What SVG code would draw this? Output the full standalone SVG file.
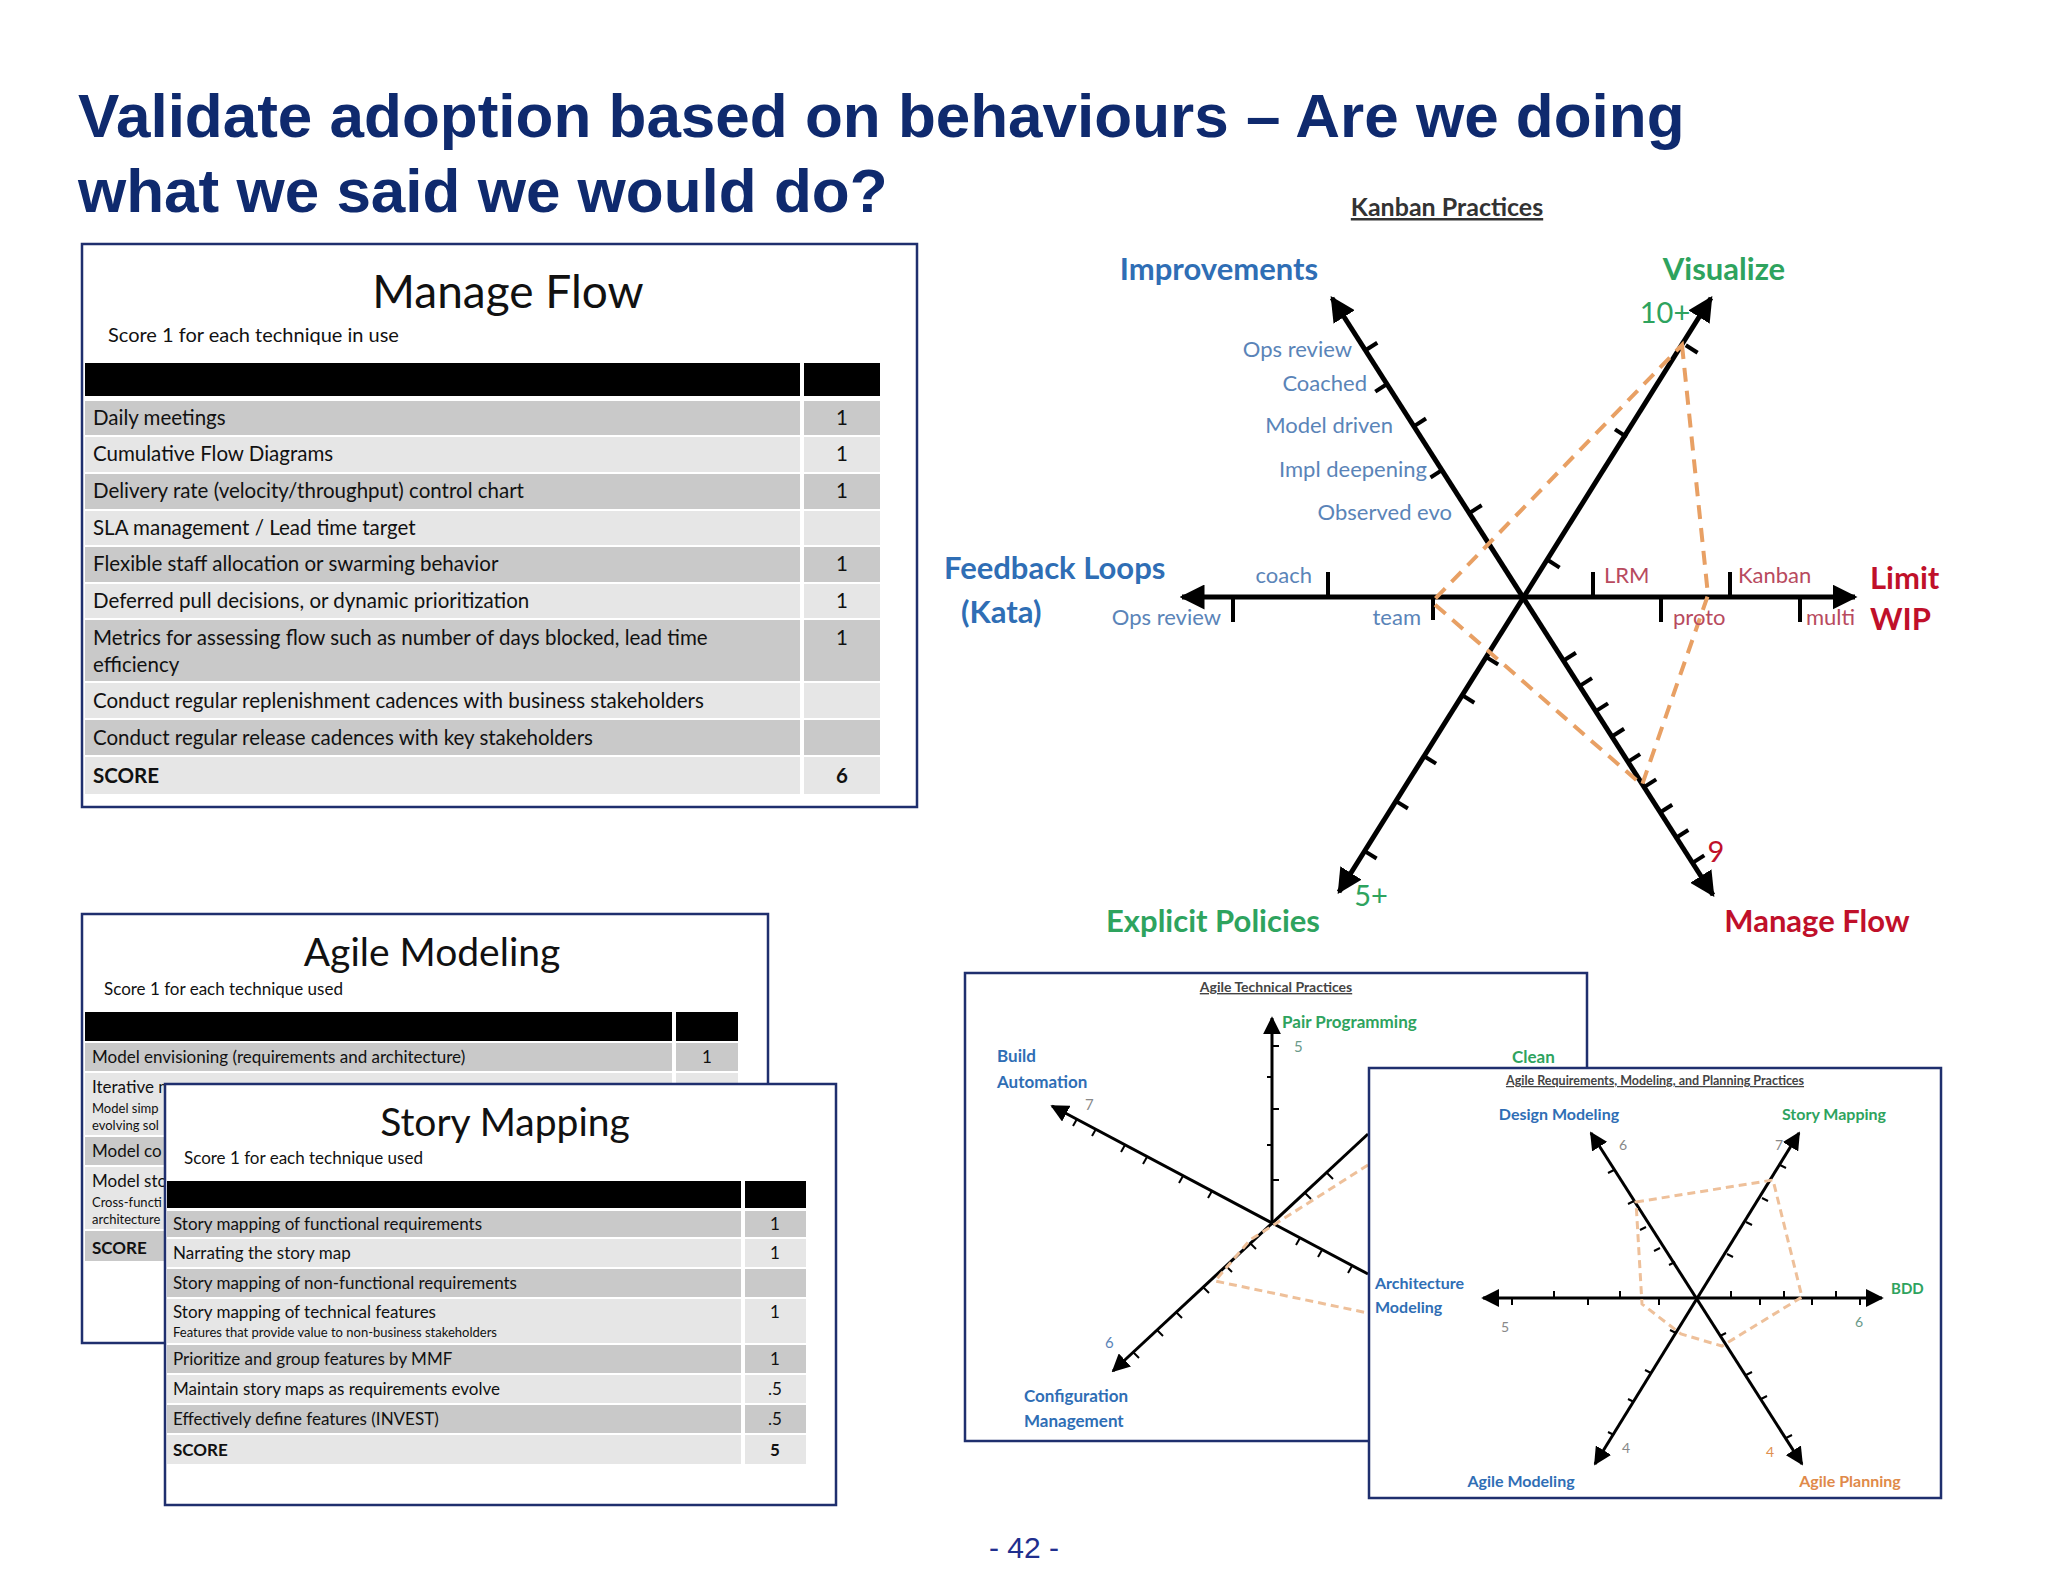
<svg xmlns="http://www.w3.org/2000/svg" width="2048" height="1582" viewBox="0 0 2048 1582">
<defs>
<marker id="ah" viewBox="0 0 10 10" refX="9" refY="5" markerWidth="5" markerHeight="5" orient="auto-start-reverse" markerUnits="strokeWidth"><path d="M0,0 L10,5 L0,10 z" fill="#000"/></marker>
<marker id="ah2" viewBox="0 0 10 10" refX="9" refY="5" markerWidth="6" markerHeight="6" orient="auto-start-reverse" markerUnits="strokeWidth"><path d="M0,0 L10,5 L0,10 z" fill="#000"/></marker>
<style>
.ttl{font-family:"Liberation Sans",Arial,sans-serif;font-weight:bold;font-size:62px;fill:#0f2a6e}
.box{fill:#fff;stroke:#1f2f6e;stroke-width:2.5}
.bt{font-family:"Lato","Open Sans",sans-serif;fill:#111}
.hd{fill:#000}
.dk{fill:#c9c9c9}
.lt{fill:#e6e6e6}
.cell{font-family:"Lato","Open Sans",sans-serif;font-size:20.5px;fill:#111}
.cs{font-family:"Lato","Open Sans",sans-serif;font-size:17px;fill:#111}
.cx{font-family:"Lato","Open Sans",sans-serif;font-size:13px;fill:#111}
.ax{stroke:#000;stroke-width:5;fill:none}
.tk{stroke:#000;stroke-width:4}
.ax2{stroke:#000;stroke-width:3;fill:none}
.tk2{stroke:#000;stroke-width:2}
.or{stroke:#e8a064;stroke-width:4;stroke-dasharray:14 9;fill:none}
.or2{stroke:#eec09a;stroke-width:3;stroke-dasharray:8 5;fill:none}
.k{font-family:"Lato","Open Sans",sans-serif}
.big{font-size:31px;font-weight:bold}
.sm{font-size:22px}
.blue{fill:#2f6eb5}
.lblue{fill:#5a84b8}
.green{fill:#2ea35e}
.red{fill:#c0102a}
.lred{fill:#b84a5e}
</style>
</defs>
<rect width="2048" height="1582" fill="#fff"/>
<text class="ttl" x="78" y="137">Validate adoption based on behaviours – Are we doing</text>
<text class="ttl" x="78" y="212">what we said we would do?</text>

<g id="manage-flow-table">
<rect class="box" x="82" y="244" width="835" height="563"/>
<text class="bt" x="508" y="308" font-size="46" text-anchor="middle">Manage Flow</text>
<text class="bt" x="108" y="342" font-size="20">Score 1 for each technique in use</text>
<rect class="hd" x="85" y="363" width="715" height="33"/><rect class="hd" x="804" y="363" width="76" height="33"/>
<rect class="dk" x="85" y="401" width="715" height="34"/><rect class="dk" x="804" y="401" width="76" height="34"/>
<rect class="lt" x="85" y="437" width="715" height="35"/><rect class="lt" x="804" y="437" width="76" height="35"/>
<rect class="dk" x="85" y="474" width="715" height="35"/><rect class="dk" x="804" y="474" width="76" height="35"/>
<rect class="lt" x="85" y="511" width="715" height="34"/><rect class="lt" x="804" y="511" width="76" height="34"/>
<rect class="dk" x="85" y="547" width="715" height="35"/><rect class="dk" x="804" y="547" width="76" height="35"/>
<rect class="lt" x="85" y="584" width="715" height="34"/><rect class="lt" x="804" y="584" width="76" height="34"/>
<rect class="dk" x="85" y="620" width="715" height="61"/><rect class="dk" x="804" y="620" width="76" height="61"/>
<rect class="lt" x="85" y="683" width="715" height="35"/><rect class="lt" x="804" y="683" width="76" height="35"/>
<rect class="dk" x="85" y="720" width="715" height="35"/><rect class="dk" x="804" y="720" width="76" height="35"/>
<rect class="lt" x="85" y="757" width="715" height="37"/><rect class="lt" x="804" y="757" width="76" height="37"/>
<text class="cell" x="93" y="425">Daily meetings</text><text class="cell" x="842" y="425" text-anchor="middle">1</text>
<text class="cell" x="93" y="461">Cumulative Flow Diagrams</text><text class="cell" x="842" y="461" text-anchor="middle">1</text>
<text class="cell" x="93" y="498">Delivery rate (velocity/throughput) control chart</text><text class="cell" x="842" y="498" text-anchor="middle">1</text>
<text class="cell" x="93" y="535">SLA  management / Lead time target</text>
<text class="cell" x="93" y="571">Flexible staff allocation or swarming behavior</text><text class="cell" x="842" y="571" text-anchor="middle">1</text>
<text class="cell" x="93" y="608">Deferred pull decisions, or dynamic prioritization</text><text class="cell" x="842" y="608" text-anchor="middle">1</text>
<text class="cell" x="93" y="645">Metrics for assessing flow such as number of days blocked, lead time</text><text class="cell" x="842" y="645" text-anchor="middle">1</text>
<text class="cell" x="93" y="672">efficiency</text>
<text class="cell" x="93" y="708">Conduct regular replenishment cadences with business stakeholders</text>
<text class="cell" x="93" y="745">Conduct regular release cadences with key stakeholders</text>
<text class="cell" x="93" y="783" font-weight="bold">SCORE</text><text class="cell" x="842" y="783" text-anchor="middle" font-weight="bold">6</text>
</g>

<g id="agile-modeling-table">
<rect class="box" x="82" y="914" width="686" height="429"/>
<text class="bt" x="432" y="966" font-size="39" text-anchor="middle">Agile Modeling</text>
<text class="bt" x="104" y="995" font-size="17">Score 1 for each technique used</text>
<rect class="hd" x="85" y="1012" width="587" height="29"/><rect class="hd" x="676" y="1012" width="62" height="29"/>
<rect class="dk" x="85" y="1043" width="587" height="28"/><rect class="dk" x="676" y="1043" width="62" height="28"/>
<rect class="lt" x="85" y="1073" width="587" height="62"/><rect class="lt" x="676" y="1073" width="62" height="62"/>
<rect class="dk" x="85" y="1137" width="587" height="28"/><rect class="dk" x="676" y="1137" width="62" height="28"/>
<rect class="lt" x="85" y="1167" width="587" height="62"/><rect class="lt" x="676" y="1167" width="62" height="62"/>
<rect class="dk" x="85" y="1231" width="587" height="30"/><rect class="dk" x="676" y="1231" width="62" height="30"/>
<text class="cs" x="92" y="1063">Model envisioning (requirements and architecture)</text><text class="cs" x="707" y="1063" text-anchor="middle">1</text>
<text class="cs" x="92" y="1093">Iterative m</text>
<text class="cx" x="92" y="1113">Model simp</text>
<text class="cx" x="92" y="1130">evolving sol</text>
<text class="cs" x="92" y="1157">Model co</text>
<text class="cs" x="92" y="1187">Model sto</text>
<text class="cx" x="92" y="1207">Cross-functi</text>
<text class="cx" x="92" y="1224">architecture</text>
<text class="cs" x="92" y="1254" font-weight="bold">SCORE</text>
</g>

<g id="story-mapping-table">
<rect class="box" x="165" y="1084" width="671" height="421"/>
<text class="bt" x="505" y="1136" font-size="39" text-anchor="middle">Story Mapping</text>
<text class="bt" x="184" y="1164" font-size="17">Score 1 for each technique used</text>
<rect class="hd" x="167" y="1181" width="574" height="27"/><rect class="hd" x="745" y="1181" width="61" height="27"/>
<rect class="dk" x="167" y="1211" width="574" height="26"/><rect class="dk" x="745" y="1211" width="61" height="26"/>
<rect class="lt" x="167" y="1239" width="574" height="28"/><rect class="lt" x="745" y="1239" width="61" height="28"/>
<rect class="dk" x="167" y="1269" width="574" height="28"/><rect class="dk" x="745" y="1269" width="61" height="28"/>
<rect class="lt" x="167" y="1299" width="574" height="44"/><rect class="lt" x="745" y="1299" width="61" height="44"/>
<rect class="dk" x="167" y="1345" width="574" height="28"/><rect class="dk" x="745" y="1345" width="61" height="28"/>
<rect class="lt" x="167" y="1375" width="574" height="28"/><rect class="lt" x="745" y="1375" width="61" height="28"/>
<rect class="dk" x="167" y="1405" width="574" height="28"/><rect class="dk" x="745" y="1405" width="61" height="28"/>
<rect class="lt" x="167" y="1435" width="574" height="29"/><rect class="lt" x="745" y="1435" width="61" height="29"/>
<text class="cs" x="173" y="1230">Story mapping of functional requirements</text><text class="cs" x="775" y="1230" text-anchor="middle">1</text>
<text class="cs" x="173" y="1259">Narrating the story map</text><text class="cs" x="775" y="1259" text-anchor="middle">1</text>
<text class="cs" x="173" y="1289">Story mapping of non-functional requirements</text>
<text class="cs" x="173" y="1318">Story mapping of technical features</text><text class="cs" x="775" y="1318" text-anchor="middle">1</text>
<text class="cx" x="173" y="1337">Features that provide value to non-business stakeholders</text>
<text class="cs" x="173" y="1365">Prioritize and group features by MMF</text><text class="cs" x="775" y="1365" text-anchor="middle">1</text>
<text class="cs" x="173" y="1395">Maintain story maps as requirements evolve</text><text class="cs" x="775" y="1395" text-anchor="middle">.5</text>
<text class="cs" x="173" y="1425">Effectively define features (INVEST)</text><text class="cs" x="775" y="1425" text-anchor="middle">.5</text>
<text class="cs" x="173" y="1456" font-weight="bold">SCORE</text><text class="cs" x="775" y="1456" text-anchor="middle" font-weight="bold">5</text>
</g>

<g id="kanban-chart">
<text class="k" x="1447" y="216" font-size="25" font-weight="bold" fill="#333" text-anchor="middle" text-decoration="underline">Kanban Practices</text>
<g id="kanban-connectors">
<line class="ax" x1="1182" y1="597" x2="1855" y2="597" marker-start="url(#ah)" marker-end="url(#ah)"/>
<line class="ax" x1="1332" y1="298" x2="1713" y2="895" marker-start="url(#ah)" marker-end="url(#ah)"/>
<line class="ax" x1="1711" y1="298" x2="1339" y2="892" marker-start="url(#ah)" marker-end="url(#ah)"/>
<line class="tk" x1="1328" y1="597" x2="1328" y2="572"/><line class="tk" x1="1233" y1="597" x2="1233" y2="622"/>
<line class="tk" x1="1433" y1="597" x2="1433" y2="620"/><line class="tk" x1="1593" y1="597" x2="1593" y2="572"/>
<line class="tk" x1="1730" y1="597" x2="1730" y2="572"/><line class="tk" x1="1661" y1="597" x2="1661" y2="622"/>
<line class="tk" x1="1800" y1="597" x2="1800" y2="622"/>
<line class="tk" x1="1365.5" y1="350.3" x2="1377.3" y2="342.7"/><line class="tk" x1="1387.1" y1="384" x2="1375.3" y2="391.6"/>
<line class="tk" x1="1414.2" y1="426.1" x2="1426" y2="418.5"/><line class="tk" x1="1442.3" y1="469.9" x2="1430.5" y2="477.5"/>
<line class="tk" x1="1469.9" y1="512.8" x2="1481.7" y2="505.2"/>
<line class="tk" x1="1685.8" y1="345.2" x2="1697.6" y2="352.8"/><line class="tk" x1="1626.8" y1="437" x2="1615" y2="429.4"/>
<line class="tk" x1="1547.8" y1="560" x2="1559.6" y2="567.6"/>
<line class="tk" x1="1486.3" y1="657.1" x2="1498.2" y2="664.5"/><line class="tk" x1="1462.4" y1="695.3" x2="1474.3" y2="702.7"/>
<line class="tk" x1="1424.2" y1="756.2" x2="1436.1" y2="763.6"/><line class="tk" x1="1396" y1="801.1" x2="1407.9" y2="808.5"/>
<line class="tk" x1="1364.7" y1="851.1" x2="1376.6" y2="858.5"/>
<line class="tk" x1="1564.1" y1="660.3" x2="1575.9" y2="652.8"/><line class="tk" x1="1580.2" y1="685.6" x2="1592" y2="678.1"/>
<line class="tk" x1="1596.2" y1="710.9" x2="1608" y2="703.4"/><line class="tk" x1="1612.3" y1="736.3" x2="1624.1" y2="728.8"/>
<line class="tk" x1="1628.3" y1="761.6" x2="1640.1" y2="754.1"/><line class="tk" x1="1644.4" y1="786.9" x2="1656.2" y2="779.4"/>
<line class="tk" x1="1660.4" y1="812.2" x2="1672.2" y2="804.7"/><line class="tk" x1="1676.5" y1="837.5" x2="1688.3" y2="830"/>
<line class="tk" x1="1692.5" y1="862.9" x2="1704.3" y2="855.4"/>
<polygon class="or" points="1682,345 1708,595 1642,785 1432,602"/>
</g>
<text class="k big blue" x="1219" y="280" text-anchor="middle">Improvements</text>
<text class="k big green" x="1724" y="280" text-anchor="middle">Visualize</text>
<text class="k green" x="1665" y="323" font-size="29" text-anchor="middle">10+</text>
<g class="k sm lblue" text-anchor="end">
<text x="1352" y="357">Ops review</text><text x="1367" y="391">Coached</text><text x="1393" y="433">Model driven</text>
<text x="1427" y="477">Impl deepening</text><text x="1452" y="520">Observed evo</text>
<text x="1312" y="583">coach</text><text x="1221" y="625">Ops review</text><text x="1421" y="625">team</text>
</g>
<text class="k big blue" x="944" y="579">Feedback Loops</text>
<text class="k big blue" x="961" y="623">(Kata)</text>
<g class="k sm lred">
<text x="1604" y="583">LRM</text><text x="1738" y="583">Kanban</text><text x="1673" y="625">proto</text><text x="1806" y="625">multi</text>
</g>
<text class="k big red" x="1870" y="589">Limit</text>
<text class="k big red" x="1870" y="630">WIP</text>
<text class="k big green" x="1213" y="932" text-anchor="middle">Explicit Policies</text>
<text class="k green" x="1371" y="906" font-size="29" text-anchor="middle">5+</text>
<text class="k red" x="1716" y="862" font-size="29" text-anchor="middle">9</text>
<text class="k big red" x="1817" y="932" text-anchor="middle">Manage Flow</text>
</g>

<g id="agile-technical-chart">
<rect class="box" x="965" y="973" width="622" height="468"/>
<text class="k" x="1276" y="992" font-size="14" font-weight="bold" fill="#444" text-anchor="middle" text-decoration="underline">Agile Technical Practices</text>
<g id="tech-connectors">
<line class="ax2" x1="1272" y1="1223" x2="1272" y2="1018" marker-end="url(#ah2)"/>
<line class="ax2" x1="1368" y1="1274" x2="1052" y2="1106" marker-end="url(#ah2)"/>
<line class="ax2" x1="1368" y1="1134" x2="1113" y2="1371" marker-end="url(#ah2)"/>
<g class="tk2">
<line x1="1272" y1="1046" x2="1279" y2="1046"/><line x1="1267" y1="1077" x2="1272" y2="1077"/><line x1="1272" y1="1109" x2="1279" y2="1109"/>
<line x1="1267" y1="1145" x2="1272" y2="1145"/><line x1="1272" y1="1180" x2="1279" y2="1180"/>
<line x1="1077" y1="1119" x2="1073" y2="1126"/><line x1="1096" y1="1129" x2="1092" y2="1136"/><line x1="1125" y1="1145" x2="1121" y2="1152"/>
<line x1="1147" y1="1157" x2="1143" y2="1164"/><line x1="1183" y1="1176" x2="1179" y2="1183"/><line x1="1212" y1="1191" x2="1208" y2="1198"/>
<line x1="1250" y1="1243" x2="1256" y2="1249"/><line x1="1226" y1="1266" x2="1232" y2="1272"/><line x1="1203" y1="1287" x2="1209" y2="1293"/>
<line x1="1176" y1="1312" x2="1182" y2="1318"/><line x1="1157" y1="1330" x2="1163" y2="1336"/><line x1="1133" y1="1352" x2="1139" y2="1358"/>
<line x1="1305" y1="1193" x2="1311" y2="1199"/><line x1="1327" y1="1173" x2="1333" y2="1179"/>
<line x1="1300" y1="1238" x2="1296" y2="1245"/><line x1="1322" y1="1250" x2="1318" y2="1257"/><line x1="1352" y1="1266" x2="1348" y2="1273"/>
</g>
<polyline class="or2" points="1368,1165 1250,1240 1215,1281 1368,1313"/>
</g>
<text class="k blue" x="997" y="1062" font-size="17" font-weight="bold">Build</text>
<text class="k blue" x="997" y="1088" font-size="17" font-weight="bold">Automation</text>
<text class="k green" x="1282" y="1028" font-size="17" font-weight="bold">Pair Programming</text>
<text class="k" x="1294" y="1052" font-size="15" fill="#6a9a8a">5</text>
<text class="k green" x="1512" y="1063" font-size="17" font-weight="bold">Clean</text>
<text class="k" x="1085" y="1110" font-size="15" fill="#888">7</text>
<text class="k lblue" x="1105" y="1348" font-size="15">6</text>
<text class="k blue" x="1024" y="1402" font-size="17" font-weight="bold">Configuration</text>
<text class="k blue" x="1024" y="1427" font-size="17" font-weight="bold">Management</text>
</g>

<g id="agile-requirements-chart">
<rect class="box" x="1369" y="1068" width="572" height="430"/>
<text class="k" x="1655" y="1085" font-size="12.5" font-weight="bold" fill="#444" text-anchor="middle" text-decoration="underline">Agile Requirements, Modeling, and Planning Practices</text>
<g id="req-connectors">
<line class="ax2" x1="1483" y1="1298" x2="1882" y2="1298" marker-start="url(#ah2)" marker-end="url(#ah2)"/>
<line class="ax2" x1="1591" y1="1133" x2="1802" y2="1464" marker-start="url(#ah2)" marker-end="url(#ah2)"/>
<line class="ax2" x1="1799" y1="1133" x2="1595" y2="1464" marker-start="url(#ah2)" marker-end="url(#ah2)"/>
<g class="tk2">
<line x1="1512" y1="1298" x2="1512" y2="1305"/><line x1="1554" y1="1298" x2="1554" y2="1291"/><line x1="1588" y1="1298" x2="1588" y2="1305"/>
<line x1="1620" y1="1298" x2="1620" y2="1291"/><line x1="1659" y1="1298" x2="1659" y2="1305"/><line x1="1731" y1="1298" x2="1731" y2="1291"/>
<line x1="1760" y1="1298" x2="1760" y2="1305"/><line x1="1784" y1="1298" x2="1784" y2="1291"/><line x1="1812" y1="1298" x2="1812" y2="1305"/>
<line x1="1836" y1="1298" x2="1836" y2="1291"/><line x1="1860" y1="1298" x2="1860" y2="1305"/>
<line x1="1614" y1="1170" x2="1608" y2="1173"/><line x1="1634" y1="1201" x2="1628" y2="1204"/><line x1="1646" y1="1227" x2="1640" y2="1230"/>
<line x1="1660" y1="1248" x2="1654" y2="1251"/><line x1="1675" y1="1262" x2="1669" y2="1265"/><line x1="1720" y1="1336" x2="1726" y2="1333"/>
<line x1="1746" y1="1375" x2="1752" y2="1372"/><line x1="1761" y1="1399" x2="1767" y2="1396"/><line x1="1786" y1="1438" x2="1792" y2="1435"/>
<line x1="1780" y1="1165" x2="1786" y2="1168"/><line x1="1762" y1="1198" x2="1768" y2="1201"/><line x1="1746" y1="1222" x2="1752" y2="1225"/>
<line x1="1727" y1="1254" x2="1733" y2="1257"/><line x1="1676" y1="1333" x2="1670" y2="1330"/><line x1="1651" y1="1373" x2="1645" y2="1370"/>
<line x1="1634" y1="1402" x2="1628" y2="1399"/><line x1="1614" y1="1435" x2="1608" y2="1432"/>
</g>
<polygon class="or2" points="1636,1202 1773,1180 1802,1297 1722,1346 1681,1334 1642,1304"/>
</g>
<text class="k blue" x="1559" y="1120" font-size="16" font-weight="bold" text-anchor="middle">Design Modeling</text>
<text class="k green" x="1834" y="1120" font-size="16" font-weight="bold" text-anchor="middle">Story Mapping</text>
<text class="k" x="1619" y="1150" font-size="14" fill="#888">6</text>
<text class="k" x="1775" y="1150" font-size="14" fill="#888">7</text>
<text class="k blue" x="1375" y="1289" font-size="16" font-weight="bold">Architecture</text>
<text class="k blue" x="1375" y="1313" font-size="16" font-weight="bold">Modeling</text>
<text class="k green" x="1891" y="1294" font-size="15" font-weight="bold">BDD</text>
<text class="k" x="1501" y="1332" font-size="14" fill="#888">5</text>
<text class="k" x="1855" y="1327" font-size="14" fill="#6a9a8a">6</text>
<text class="k" x="1622" y="1453" font-size="14" fill="#888">4</text>
<text class="k" x="1766" y="1457" font-size="14" fill="#e09050">4</text>
<text class="k blue" x="1521" y="1487" font-size="16" font-weight="bold" text-anchor="middle">Agile Modeling</text>
<text class="k" x="1850" y="1487" font-size="16" font-weight="bold" fill="#e08a4a" text-anchor="middle">Agile Planning</text>
</g>

<text x="1024" y="1558" font-family="Liberation Sans,Arial,sans-serif" font-size="30" fill="#1f2f8e" text-anchor="middle">- 42 -</text>
</svg>
